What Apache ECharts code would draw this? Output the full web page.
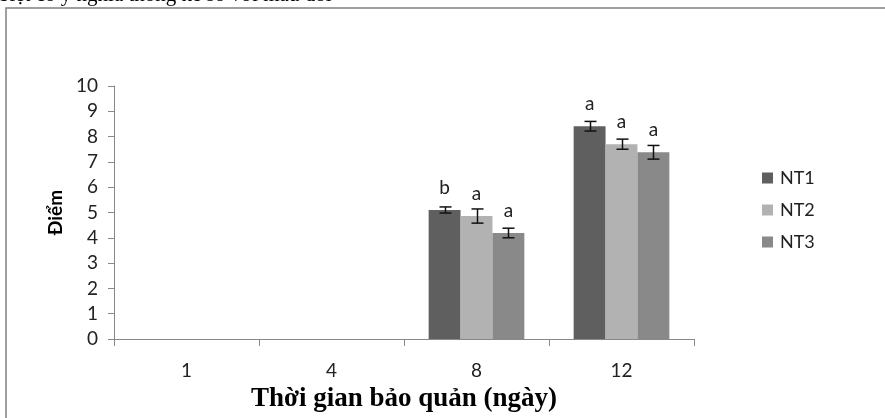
<!DOCTYPE html>
<html>
<head>
<meta charset="utf-8">
<script src="https://cdn.jsdelivr.net/npm/echarts@6/dist/echarts.min.js"></script>
<style>
html,body{margin:0;padding:0;background:#fff;}
#chart{width:885px;height:418px;}
</style>
</head>
<body>
<div id="chart"></div>
<script>
var categories = ['1', '4', '8', '12'];
var seriesNames = ['NT1', 'NT2', 'NT3'];
var nt1 = [null, null, 5.10, 8.41];
var nt2 = [null, null, 4.86, 7.70];
var nt3 = [null, null, 4.19, 7.38];
var err1 = [null, null, 0.12, 0.19];
var err2 = [null, null, 0.28, 0.20];
var err3 = [null, null, 0.19, 0.27];
var letters1 = ['', '', 'b', 'a'];
var letters2 = ['', '', 'a', 'a'];
var letters3 = ['', '', 'a', 'a'];
var yTicks = [0, 10, 1];
var topText = 'biệt có ý nghĩa thống kê so với mẫu đối';
var yTitle = 'Điểm';
var xTitle = 'Thời gian bảo quản (ngày)';

var values = [nt1, nt2, nt3];
var errs = [err1, err2, err3];
var letters = [letters1, letters2, letters3];
var colors = ['#5f5f5f', '#b2b2b2', '#898989'];
var gapRatio = 0.34;

var chart = echarts.init(document.getElementById('chart'));
var series = [];
values.forEach(function (vals, si) {
  series.push({
    name: seriesNames[si],
    type: 'bar',
    data: vals,
    barGap: '0%',
    barCategoryGap: '34%',
    itemStyle: { color: colors[si] },
    label: {
      show: true,
      position: 'top',
      distance: 13,
      fontFamily: 'Lato',
      fontSize: 19,
      color: '#222',
      formatter: function (p) { return letters[si][p.dataIndex]; }
    }
  });
});
values.forEach(function (vals, si) {
  var d = [];
  vals.forEach(function (v, i) { if (v != null) d.push([i, v, errs[si][i]]); });
  series.push({
    type: 'custom',
    silent: true,
    z: 5,
    data: d,
    encode: { x: 0, y: 1 },
    renderItem: function (params, api) {
      var ci = api.value(0), v = api.value(1), e = api.value(2);
      var band = api.size([1, 0])[0];
      var bw = band * (1 - gapRatio) / 3;
      var c = api.coord([ci, v]);
      var x = Math.round(c[0] + (si - 1) * bw) + 0.5;
      var top = api.coord([ci, v + e])[1];
      var bot = api.coord([ci, v - e])[1];
      var cw = 6;
      var st = { stroke: '#111', lineWidth: 1.5 };
      return {
        type: 'group',
        children: [
          { type: 'line', shape: { x1: x, y1: top, x2: x, y2: bot }, style: st },
          { type: 'line', shape: { x1: x - cw, y1: top, x2: x + cw, y2: top }, style: st },
          { type: 'line', shape: { x1: x - cw, y1: bot, x2: x + cw, y2: bot }, style: st }
        ]
      };
    }
  });
});

chart.setOption({
  animation: false,
  backgroundColor: '#fff',
  grid: { left: 114, right: 191, top: 86, bottom: 70, containLabel: false },
  legend: {
    data: seriesNames,
    orient: 'vertical',
    left: 757,
    top: 164,
    itemWidth: 11,
    itemHeight: 11,
    itemGap: 14,
    icon: 'rect',
    textStyle: { fontFamily: 'Lato', fontSize: 18, color: '#222', padding: [0, 0, 0, 2] }
  },
  xAxis: {
    type: 'category',
    data: categories,
    axisLine: { lineStyle: { color: '#888', width: 1 } },
    axisTick: { show: true, length: 7, alignWithLabel: false, lineStyle: { color: '#888' } },
    axisLabel: { fontFamily: 'Lato', fontSize: 19, color: '#222', margin: 22 },
    name: xTitle,
    nameLocation: 'middle',
    nameGap: 47,
    nameTextStyle: { fontFamily: 'Liberation Serif', fontWeight: 'bold', fontSize: 27, color: '#000' }
  },
  yAxis: {
    type: 'value',
    min: yTicks[0],
    max: yTicks[1],
    interval: yTicks[2],
    splitLine: { show: false },
    axisLine: { show: true, lineStyle: { color: '#888', width: 1 } },
    axisTick: { show: true, length: 6, lineStyle: { color: '#888' } },
    axisLabel: { fontFamily: 'Lato', fontSize: 19, color: '#222', margin: 16 },
    name: yTitle,
    nameLocation: 'middle',
    nameGap: 48,
    nameRotate: 90,
    nameTextStyle: { fontFamily: 'Lato', fontWeight: 'bold', fontSize: 19, color: '#000' }
  },
  graphic: [
    { type: 'rect', shape: { x: 6, y: 8, width: 1000, height: 1000 }, style: { fill: 'none', stroke: '#808080', lineWidth: 1.5 }, silent: true },
    { type: 'text', x: -1, y: 6, style: { text: topText, font: '21px "Liberation Serif"', fill: '#000', verticalAlign: 'bottom', align: 'left' }, silent: true }
  ],
  series: series
});
</script>
</body>
</html>
